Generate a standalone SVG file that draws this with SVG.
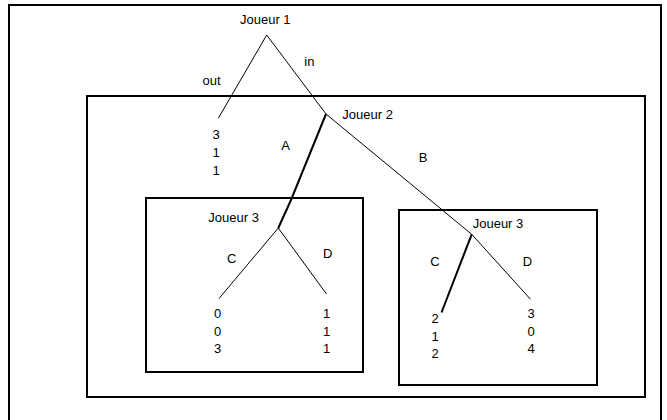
<svg xmlns="http://www.w3.org/2000/svg" width="667" height="420" viewBox="0 0 667 420">
  <style>
    text { font-family: "Liberation Sans", Arial, sans-serif; font-size: 13px; fill: #000; }
    .mid { text-anchor: middle; }
    .box { fill: none; stroke: #000; stroke-width: 2; }
    .edge { stroke: #000; stroke-width: 1; fill: none; }
    .bold { stroke: #000; stroke-width: 2; fill: none; }
  </style>
  <rect width="667" height="420" fill="#fff"/>
  <!-- outer frame -->
  <rect class="box" x="9" y="5" width="652" height="420"/>

  <!-- subgame frames -->
  <g id="subgame-joueur2">
    <rect class="box" x="87" y="96" width="558" height="301"/>
  </g>
  <g id="subgame-joueur3-left">
    <rect class="box" x="146" y="198" width="217" height="174"/>
  </g>
  <g id="subgame-joueur3-right">
    <rect class="box" x="399" y="210" width="198" height="175"/>
  </g>

  <!-- tree branches -->
  <g id="connectors">
    <line class="edge" x1="266.7" y1="35" x2="218.3" y2="118.3"/>
    <line class="edge" x1="266.7" y1="35" x2="326" y2="114"/>
    <polyline class="bold" points="326,114 291,200 278.3,228"/>
    <line class="edge" x1="326" y1="114" x2="471.7" y2="234.3"/>
    <line class="edge" x1="278.3" y1="228" x2="219" y2="298.5"/>
    <line class="edge" x1="278.3" y1="228" x2="326.5" y2="294"/>
    <line class="bold" x1="471.7" y1="234.3" x2="441.5" y2="312.5"/>
    <line class="edge" x1="471.7" y1="234.3" x2="530.5" y2="299.3"/>
  </g>

  <!-- decision nodes -->
  <g id="joueur1"><text x="240" y="24">Joueur 1</text></g>
  <g id="joueur2"><text x="342.3" y="119">Joueur 2</text></g>
  <g id="joueur3-left"><text x="208.3" y="221.7">Joueur 3</text></g>
  <g id="joueur3-right"><text x="472.7" y="228.3">Joueur 3</text></g>

  <!-- action labels -->
  <g id="labels">
    <text x="202.5" y="85">out</text>
    <text x="304.3" y="65.5">in</text>
    <text class="mid" x="285.7" y="150">A</text>
    <text class="mid" x="423" y="162">B</text>
    <text class="mid" x="231.7" y="263.3">C</text>
    <text class="mid" x="327.7" y="258.3">D</text>
    <text class="mid" x="435" y="265.7">C</text>
    <text class="mid" x="527.5" y="265.7">D</text>
  </g>

  <!-- payoffs -->
  <g id="payoff-out">
    <text class="mid" x="216" y="139">3</text>
    <text class="mid" x="216" y="157">1</text>
    <text class="mid" x="216" y="175">1</text>
  </g>
  <g id="payoff-AC">
    <text class="mid" x="217.7" y="318.3">0</text>
    <text class="mid" x="217.7" y="335.5">0</text>
    <text class="mid" x="217.7" y="352.7">3</text>
  </g>
  <g id="payoff-AD">
    <text class="mid" x="326.7" y="318.3">1</text>
    <text class="mid" x="326.7" y="335.5">1</text>
    <text class="mid" x="326.7" y="352.7">1</text>
  </g>
  <g id="payoff-BC">
    <text class="mid" x="435" y="323.3">2</text>
    <text class="mid" x="435" y="340.8">1</text>
    <text class="mid" x="435" y="358.3">2</text>
  </g>
  <g id="payoff-BD">
    <text class="mid" x="531" y="318.3">3</text>
    <text class="mid" x="531" y="335.5">0</text>
    <text class="mid" x="531" y="352.7">4</text>
  </g>
</svg>
